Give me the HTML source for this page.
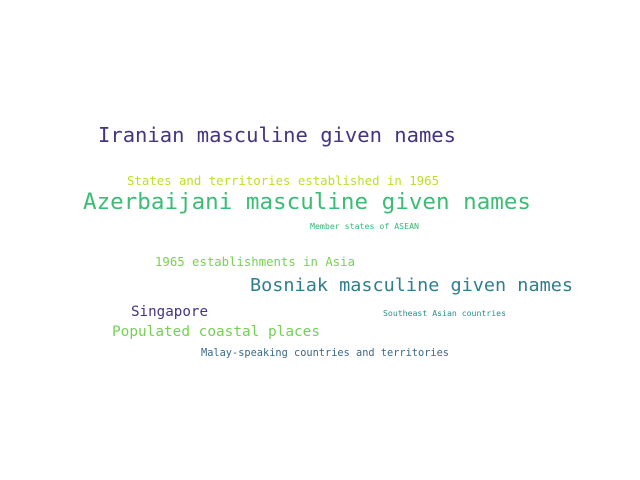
<!DOCTYPE html>
<html><head><meta charset="utf-8"><style>
html,body{margin:0;padding:0;background:#fff;width:640px;height:480px;overflow:hidden}
svg text{font-family:"DejaVu Sans Mono","Liberation Mono",monospace}
</style></head><body>
<svg id="cloud" width="640" height="480" xmlns="http://www.w3.org/2000/svg">
<rect width="640" height="480" fill="#fff"/>
</svg>
<script>
const words = ["Iranian masculine given names","States and territories established in 1965","Azerbaijani masculine given names","Member states of ASEAN","1965 establishments in Asia","Bosniak masculine given names","Singapore","Southeast Asian countries","Populated coastal places","Malay-speaking countries and territories"];
const weights = [20,12,22,8,12,18,14,8,14,11];
const colors = ["#463480","#bddf26","#3dbc74","#35b779","#7ad151","#2e7e8e","#46337e","#2a8f8a","#75d054","#39698c"];
const xs = [98,127,83,310,155,250,131,383,112,201];
const ys = [142,185,209,229,266,291,316,316,336,356];
const widths = [358,312,448,109,200,323,77,123,208,248];
const svg = document.getElementById('cloud');
for (let i = 0; i < words.length; i++) {
  const t = document.createElementNS('http://www.w3.org/2000/svg','text');
  
  
  t.setAttribute('x', xs[i]);
  t.setAttribute('y', ys[i]);
  t.setAttribute('font-size', weights[i]);
  t.setAttribute('fill', colors[i]);
  t.setAttribute('textLength', widths[i]);
  t.setAttribute('lengthAdjust', 'spacingAndGlyphs');
  t.textContent = words[i];
  svg.appendChild(t);
}
</script>
</body></html>
